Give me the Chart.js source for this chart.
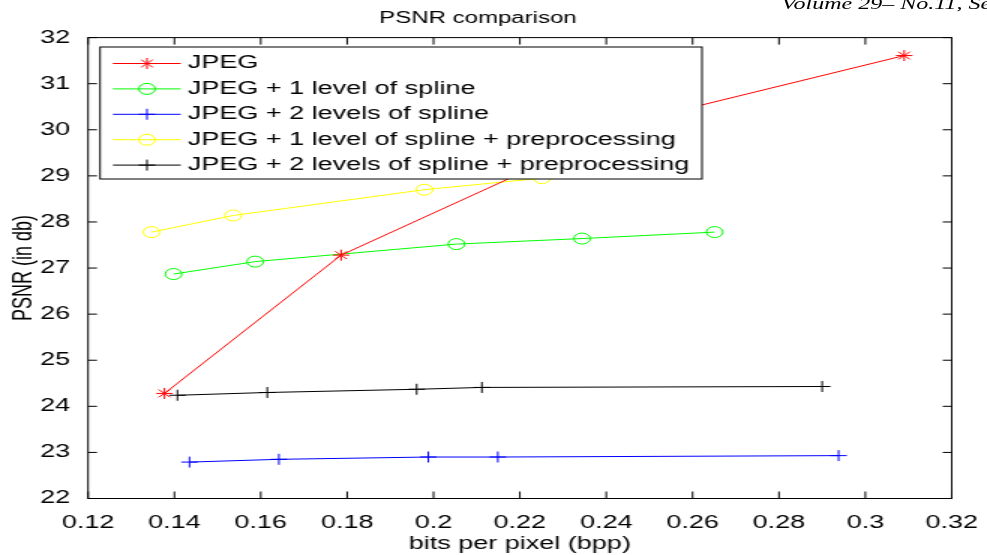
<!DOCTYPE html>
<html>
<head>
<meta charset="utf-8">
<script src="https://cdn.jsdelivr.net/npm/chart.js@4.4.1/dist/chart.umd.min.js"></script>
<style>
html, body { margin: 0; padding: 0; background: #fff; overflow: hidden; width: 987px; height: 555px; }
/* the scanned figure is stretched horizontally, so draw narrow and stretch */
#wrap { position: absolute; left: 0; top: 0; width: 658px; height: 555px; transform: scaleX(1.5); transform-origin: 0 0; }
#journal { position: absolute; left: 521px; top: -4px; font: italic 16px 'Liberation Serif', 'Times New Roman', serif; line-height: 15px; white-space: nowrap; color: #000; }
</style>
</head>
<body>
<div id="wrap">
  <canvas id="psnrChart" width="658" height="555"></canvas>
  <div id="journal">Volume 29– No.11, Se</div>
</div>
<script>
// data
const jpegX = [0.1377, 0.1786, 0.2465, 0.309];
const jpegY = [24.28, 27.28, 30.18, 31.61];
const spline1X = [0.1398, 0.1587, 0.2053, 0.2344, 0.2651];
const spline1Y = [26.87, 27.14, 27.52, 27.64, 27.78];
const spline2X = [0.1435, 0.1642, 0.1988, 0.2149, 0.2938];
const spline2Y = [22.79, 22.85, 22.90, 22.90, 22.93];
const pre1X = [0.1347, 0.1536, 0.1979, 0.2251];
const pre1Y = [27.78, 28.14, 28.70, 28.95];
const pre2X = [0.1407, 0.1615, 0.1961, 0.2112, 0.2900];
const pre2Y = [24.24, 24.30, 24.37, 24.41, 24.43];

const seriesLabels = [
    'JPEG',
    'JPEG + 1 level of spline',
    'JPEG + 2 levels of spline',
    'JPEG + 1 level of spline + preprocessing',
    'JPEG + 2 levels of spline + preprocessing'
];
const xTicks = [0.12, 0.14, 0.16, 0.18, 0.2, 0.22, 0.24, 0.26, 0.28, 0.3, 0.32];
const yTicks = [22, 23, 24, 25, 26, 27, 28, 29, 30, 31, 32];

const FONT = "'Liberation Sans', Arial, Helvetica, sans-serif";

function pts(xs, ys) {
    return xs.map((x, i) => ({ x: x, y: ys[i] }));
}

function makeSet(i, xs, ys, color, style) {
    return {
        label: seriesLabels[i],
        data: pts(xs, ys),
        showLine: true,
        borderColor: color,
        backgroundColor: 'rgba(0,0,0,0)',
        borderWidth: 1,
        pointStyle: style,
        pointRadius: 5.5,
        pointBorderColor: color,
        pointBackgroundColor: 'rgba(0,0,0,0)',
        pointBorderWidth: 1,
        pointHoverRadius: 5.5,
        tension: 0
    };
}

// box, inward ticks and the legend the way the figure has them
const framePlugin = {
    id: 'frame',
    afterDraw(chart) {
        const ctx = chart.ctx;
        const a = chart.chartArea;
        const xs = chart.scales.x, ys = chart.scales.y;
        ctx.save();
        ctx.strokeStyle = '#000';
        ctx.lineWidth = 1;
        ctx.strokeRect(a.left, a.top, a.right - a.left, a.bottom - a.top);
        ctx.beginPath();
        xTicks.forEach(v => {
            const px = xs.getPixelForValue(v);
            ctx.moveTo(px, a.bottom); ctx.lineTo(px, a.bottom - 7);
            ctx.moveTo(px, a.top); ctx.lineTo(px, a.top + 7);
        });
        yTicks.forEach(v => {
            const py = ys.getPixelForValue(v);
            ctx.moveTo(a.left, py); ctx.lineTo(a.left + 6, py);
            ctx.moveTo(a.right, py); ctx.lineTo(a.right - 6, py);
        });
        ctx.stroke();

        // legend
        const L = { left: 66.7, top: 47, right: 468, bottom: 179 };
        ctx.fillStyle = '#fff';
        ctx.fillRect(L.left, L.top, L.right - L.left, L.bottom - L.top);
        ctx.strokeRect(L.left, L.top, L.right - L.left, L.bottom - L.top);
        ctx.font = '18px ' + FONT;
        ctx.textBaseline = 'middle';
        ctx.textAlign = 'left';
        chart.data.datasets.forEach((ds, i) => {
            const y = 63.5 + i * 25.4;
            ctx.strokeStyle = ds.borderColor;
            ctx.fillStyle = 'rgba(0,0,0,0)';
            ctx.lineWidth = 1;
            ctx.beginPath();
            ctx.moveTo(75.3, y); ctx.lineTo(120.5, y);
            ctx.stroke();
            Chart.helpers.drawPoint(ctx, { pointStyle: ds.pointStyle, radius: 5.5, borderWidth: 1, rotation: 0 }, 98, y);
            ctx.fillStyle = '#000';
            ctx.fillText(ds.label, 125.3, y);
        });
        ctx.restore();
    }
};

new Chart(document.getElementById('psnrChart'), {
    type: 'scatter',
    data: {
        datasets: [
            makeSet(0, jpegX, jpegY, '#ff0000', 'star'),
            makeSet(1, spline1X, spline1Y, '#00ff00', 'circle'),
            makeSet(2, spline2X, spline2Y, '#0000ff', 'cross'),
            makeSet(3, pre1X, pre1Y, '#ffff00', 'circle'),
            makeSet(4, pre2X, pre2Y, '#000000', 'cross')
        ]
    },
    options: {
        responsive: false,
        animation: false,
        devicePixelRatio: 1,
        layout: { padding: { left: 0, right: 20.7, top: 0, bottom: 0 } },
        plugins: {
            legend: { display: false },
            tooltip: { enabled: false },
            title: {
                display: true,
                text: 'PSNR comparison',
                color: '#000',
                font: { family: FONT, size: 16, weight: 'normal' },
                padding: { top: 9, bottom: 9.4 }
            }
        },
        scales: {
            x: {
                type: 'linear',
                min: 0.12, max: 0.32,
                afterBuildTicks: s => { s.ticks = xTicks.map(v => ({ value: v })); },
                afterFit: s => { s.height = 56.5; },
                grid: { display: false },
                border: { display: false },
                ticks: {
                    color: '#000',
                    padding: 6,
                    maxRotation: 0,
                    autoSkip: false,
                    font: { family: FONT, size: 18 },
                    callback: v => String(Number(v.toFixed(2)))
                },
                title: {
                    display: true,
                    text: 'bits per pixel (bpp)',
                    color: '#000',
                    font: { family: FONT, size: 18 },
                    padding: { top: 5, bottom: 0 }
                }
            },
            y: {
                type: 'linear',
                min: 22, max: 32,
                afterBuildTicks: s => { s.ticks = yTicks.map(v => ({ value: v })); },
                afterFit: s => { s.width = 58.7; },
                grid: { display: false },
                border: { display: false },
                ticks: {
                    color: '#000',
                    padding: 4,
                    autoSkip: false,
                    font: { family: FONT, size: 18 }
                },
                title: {
                    display: true,
                    text: 'PSNR (in db)',
                    color: '#000',
                    font: { family: FONT, size: 18 },
                    padding: { top: 5, bottom: 0 }
                }
            }
        }
    },
    plugins: [framePlugin]
});
</script>
</body>
</html>
